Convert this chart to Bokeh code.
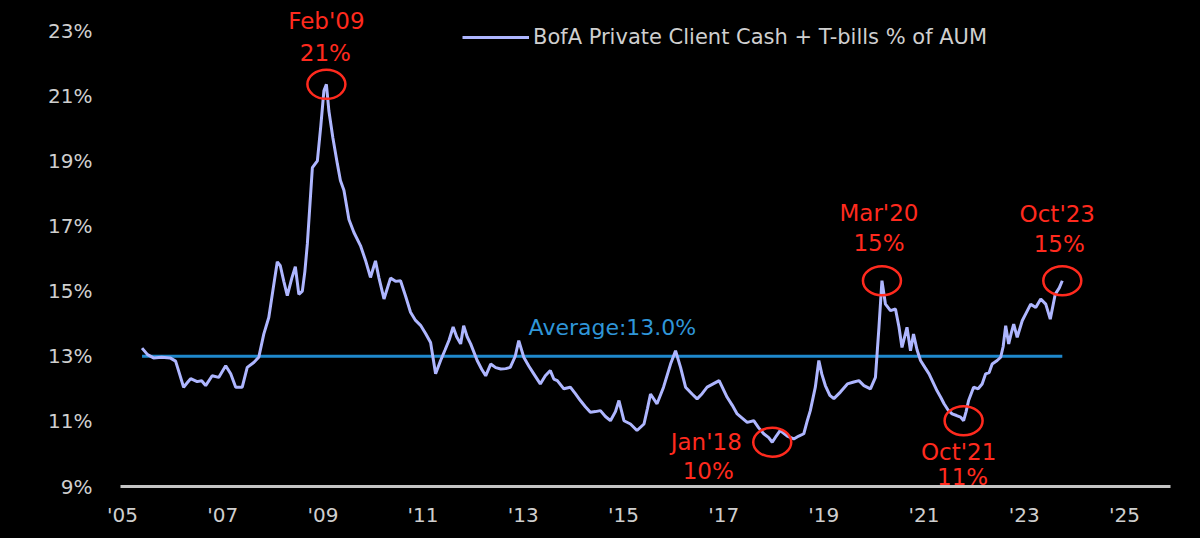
from bokeh.plotting import figure
from bokeh.models import (Range1d, FixedTicker, PrintfTickFormatter, Legend, LegendItem,
                          ColumnDataSource, GlobalInlineStyleSheet)
from bokeh.core.properties import value
from bokeh.embed import file_html
from bokeh.resources import INLINE

# ---------------- data (decimal year, % of AUM) ----------------
years = [
    2005.39, 2005.50, 2005.62, 2005.78, 2005.95, 2006.06, 2006.14, 2006.22, 2006.30, 2006.36,
    2006.49, 2006.58, 2006.66, 2006.79, 2006.92, 2007.06, 2007.16, 2007.26, 2007.39, 2007.49,
    2007.62, 2007.72, 2007.82, 2007.92, 2008.00, 2008.09, 2008.15, 2008.22, 2008.29, 2008.38,
    2008.45, 2008.52, 2008.59, 2008.64, 2008.69, 2008.79, 2008.89, 2008.96, 2009.02, 2009.07,
    2009.12, 2009.20, 2009.29, 2009.35, 2009.42, 2009.52, 2009.62, 2009.75, 2009.85, 2009.95,
    2010.05, 2010.12, 2010.22, 2010.35, 2010.45, 2010.55, 2010.65, 2010.75, 2010.85, 2010.95,
    2011.05, 2011.15, 2011.25, 2011.35, 2011.44, 2011.52, 2011.60, 2011.67, 2011.75, 2011.81,
    2011.88, 2011.95, 2012.08, 2012.17, 2012.25, 2012.35, 2012.45, 2012.55, 2012.65, 2012.74,
    2012.84, 2012.91, 2013.01, 2013.11, 2013.21, 2013.34, 2013.44, 2013.54, 2013.61, 2013.68,
    2013.81, 2013.94, 2014.04, 2014.14, 2014.24, 2014.34, 2014.44, 2014.54, 2014.64, 2014.74,
    2014.84, 2014.91, 2015.01, 2015.14, 2015.27, 2015.41, 2015.48, 2015.54, 2015.67, 2015.80,
    2015.94, 2016.04, 2016.14, 2016.24, 2016.37, 2016.47, 2016.57, 2016.67, 2016.79, 2016.91,
    2017.07, 2017.17, 2017.27, 2017.37, 2017.47, 2017.60, 2017.70, 2017.80, 2017.90, 2017.97,
    2018.05, 2018.13, 2018.27, 2018.40, 2018.50, 2018.60, 2018.67, 2018.73, 2018.83, 2018.90,
    2018.96, 2019.03, 2019.12, 2019.20, 2019.33, 2019.47, 2019.58, 2019.70, 2019.80, 2019.93,
    2020.03, 2020.10, 2020.16, 2020.23, 2020.33, 2020.43, 2020.50, 2020.56, 2020.66, 2020.73,
    2020.79, 2020.86, 2020.93, 2021.02, 2021.10, 2021.18, 2021.26, 2021.33, 2021.40, 2021.48,
    2021.56, 2021.65, 2021.73, 2021.79, 2021.84, 2021.89, 2021.99, 2022.08, 2022.16, 2022.23,
    2022.30, 2022.36, 2022.46, 2022.53, 2022.58, 2022.63, 2022.69, 2022.74, 2022.79, 2022.86,
    2022.96, 2023.03, 2023.13, 2023.23, 2023.33, 2023.43, 2023.52, 2023.62, 2023.70, 2023.76,
]
cash_pct = [
    13.25, 13.05, 12.95, 12.97, 12.95, 12.85, 12.45, 12.05, 12.20, 12.31,
    12.22, 12.25, 12.10, 12.40, 12.35, 12.71, 12.46, 12.05, 12.05, 12.66,
    12.81, 12.97, 13.68, 14.19, 15.00, 15.90, 15.78, 15.30, 14.86, 15.40,
    15.75, 14.90, 15.00, 15.60, 16.45, 18.79, 19.00, 20.10, 21.15, 21.35,
    20.53, 19.70, 18.90, 18.40, 18.10, 17.20, 16.80, 16.40, 15.95, 15.42,
    15.93, 15.40, 14.76, 15.40, 15.30, 15.32, 14.85, 14.35, 14.10, 13.95,
    13.70, 13.42, 12.46, 12.87, 13.20, 13.50, 13.90, 13.60, 13.38, 13.94,
    13.60, 13.38, 12.87, 12.60, 12.40, 12.76, 12.65, 12.61, 12.62, 12.66,
    13.00, 13.48, 12.97, 12.70, 12.46, 12.15, 12.40, 12.56, 12.30, 12.25,
    12.00, 12.05, 11.85, 11.64, 11.45, 11.28, 11.30, 11.33, 11.15, 11.02,
    11.30, 11.64, 11.02, 10.92, 10.72, 10.92, 11.40, 11.84, 11.54, 12.05,
    12.76, 13.17, 12.66, 12.05, 11.84, 11.69, 11.85, 12.05, 12.15, 12.25,
    11.74, 11.50, 11.23, 11.10, 10.97, 11.02, 10.80, 10.62, 10.50, 10.36,
    10.55, 10.72, 10.55, 10.46, 10.55, 10.62, 11.02, 11.33, 12.05, 12.87,
    12.45, 12.10, 11.80, 11.70, 11.90, 12.15, 12.20, 12.25, 12.10, 12.00,
    12.35, 13.89, 15.32, 14.60, 14.40, 14.45, 13.90, 13.27, 13.89, 13.17,
    13.68, 13.20, 12.87, 12.65, 12.46, 12.20, 11.94, 11.75, 11.54, 11.35,
    11.23, 11.18, 11.13, 11.02, 11.30, 11.64, 12.05, 12.00, 12.15, 12.46,
    12.50, 12.76, 12.87, 12.97, 13.30, 13.94, 13.38, 13.70, 13.99, 13.58,
    14.09, 14.30, 14.60, 14.50, 14.76, 14.60, 14.14, 14.91, 15.10, 15.32,
]
average_pct = 13.0
average_label = "Average:13.0%"
series_label = "BofA Private Client Cash + T-bills % of AUM"

x_ticks = [2005, 2007, 2009, 2011, 2013, 2015, 2017, 2019, 2021, 2023, 2025]
x_tick_labels = ["'05", "'07", "'09", "'11", "'13", "'15", "'17", "'19", "'21", "'23", "'25"]
y_ticks = [9, 11, 13, 15, 17, 19, 21, 23]

ann_years = [2009.07, 2017.97, 2020.16, 2021.79, 2023.76]
ann_dates = ["Feb'09", "Jan'18", "Mar'20", "Oct'21", "Oct'23"]
ann_pcts = ["21%", "10%", "15%", "11%", "15%"]

# ---------------- styling ----------------
FONT = "DejaVu Sans"
LINE_COLOR = "#aeb6ff"
AVG_COLOR = "#1f88cc"
AVG_TEXT = "#2f96d8"
RED = "#ff2a1e"
TICK_COLOR = "#cfcfcf"

p = figure(width=1200, height=538, output_backend="svg", toolbar_location=None,
           x_range=Range1d(2004.96, 2025.92), y_range=Range1d(9, 23.68),
           min_border_left=120, min_border_right=30, min_border_top=8, min_border_bottom=52,
           background_fill_color="black", border_fill_color="black", outline_line_color=None)
p.stylesheets = [GlobalInlineStyleSheet(css="html, body { background: #000000; }")]
p.xgrid.visible = False
p.ygrid.visible = False

# axes
p.xaxis.ticker = FixedTicker(ticks=x_ticks)
p.xaxis.major_label_overrides = {t: l for t, l in zip(x_ticks, x_tick_labels)}
p.xaxis.axis_line_color = "#c4c4c4"
p.xaxis.axis_line_width = 3
p.xaxis.major_tick_line_color = None
p.xaxis.minor_tick_line_color = None
p.xaxis.major_label_standoff = 10
p.xaxis.major_label_text_color = TICK_COLOR
p.xaxis.major_label_text_font = FONT
p.xaxis.major_label_text_font_size = "20px"

p.yaxis.ticker = FixedTicker(ticks=y_ticks)
p.yaxis.formatter = PrintfTickFormatter(format="%d%%")
p.yaxis.axis_line_color = None
p.yaxis.major_tick_line_color = None
p.yaxis.minor_tick_line_color = None
p.yaxis.major_label_standoff = 22
p.yaxis.major_label_text_color = TICK_COLOR
p.yaxis.major_label_text_font = FONT
p.yaxis.major_label_text_font_size = "20px"

# average line
p.line(x=[years[0], years[-1]], y=[average_pct, average_pct], line_color=AVG_COLOR, line_width=3)
p.text(x=[2014.78], y=[average_pct], text=[average_label], y_offset=-29,
       text_align="center", text_baseline="middle", text_color=AVG_TEXT,
       text_font=value(FONT), text_font_size="22px")

# main series
src = ColumnDataSource(dict(x=years, y=cash_pct))
main = p.line("x", "y", source=src, line_color=LINE_COLOR, line_width=3)

# annotations
ann_vals = [cash_pct[years.index(yr)] for yr in ann_years]
date_dx = [0, -66, -3, -5, -5]
date_dy = [-63, 0, -68, 31, -67]
pct_dx = [-1, -64, -3, -1, -3]
pct_dy = [-31, 29, -38, 56, -37]
p.ellipse(x=ann_years, y=ann_vals, width=38, height=29, width_units="screen",
          height_units="screen", fill_color=None, line_color=RED, line_width=2.5)
ann_src = ColumnDataSource(dict(x=ann_years, y=ann_vals, d=ann_dates, pc=ann_pcts,
                                ddx=date_dx, ddy=date_dy, pdx=pct_dx, pdy=pct_dy))
p.text(x="x", y="y", text="d", x_offset="ddx", y_offset="ddy", source=ann_src,
       text_align="center", text_baseline="middle", text_color=RED,
       text_font=value(FONT), text_font_size="23px")
p.text(x="x", y="y", text="pc", x_offset="pdx", y_offset="pdy", source=ann_src,
       text_align="center", text_baseline="middle", text_color=RED,
       text_font=value(FONT), text_font_size="23px")

# legend
legend = Legend(items=[LegendItem(label=series_label, renderers=[main])],
                location=(342, 437), background_fill_alpha=0, border_line_color=None,
                label_text_color=TICK_COLOR, label_text_font=FONT, label_text_font_size="21px",
                glyph_width=67, glyph_height=24, label_height=24, padding=0, margin=0,
                label_standoff=4)
p.add_layout(legend)

open("out.html", "w").write(file_html(p, INLINE))
